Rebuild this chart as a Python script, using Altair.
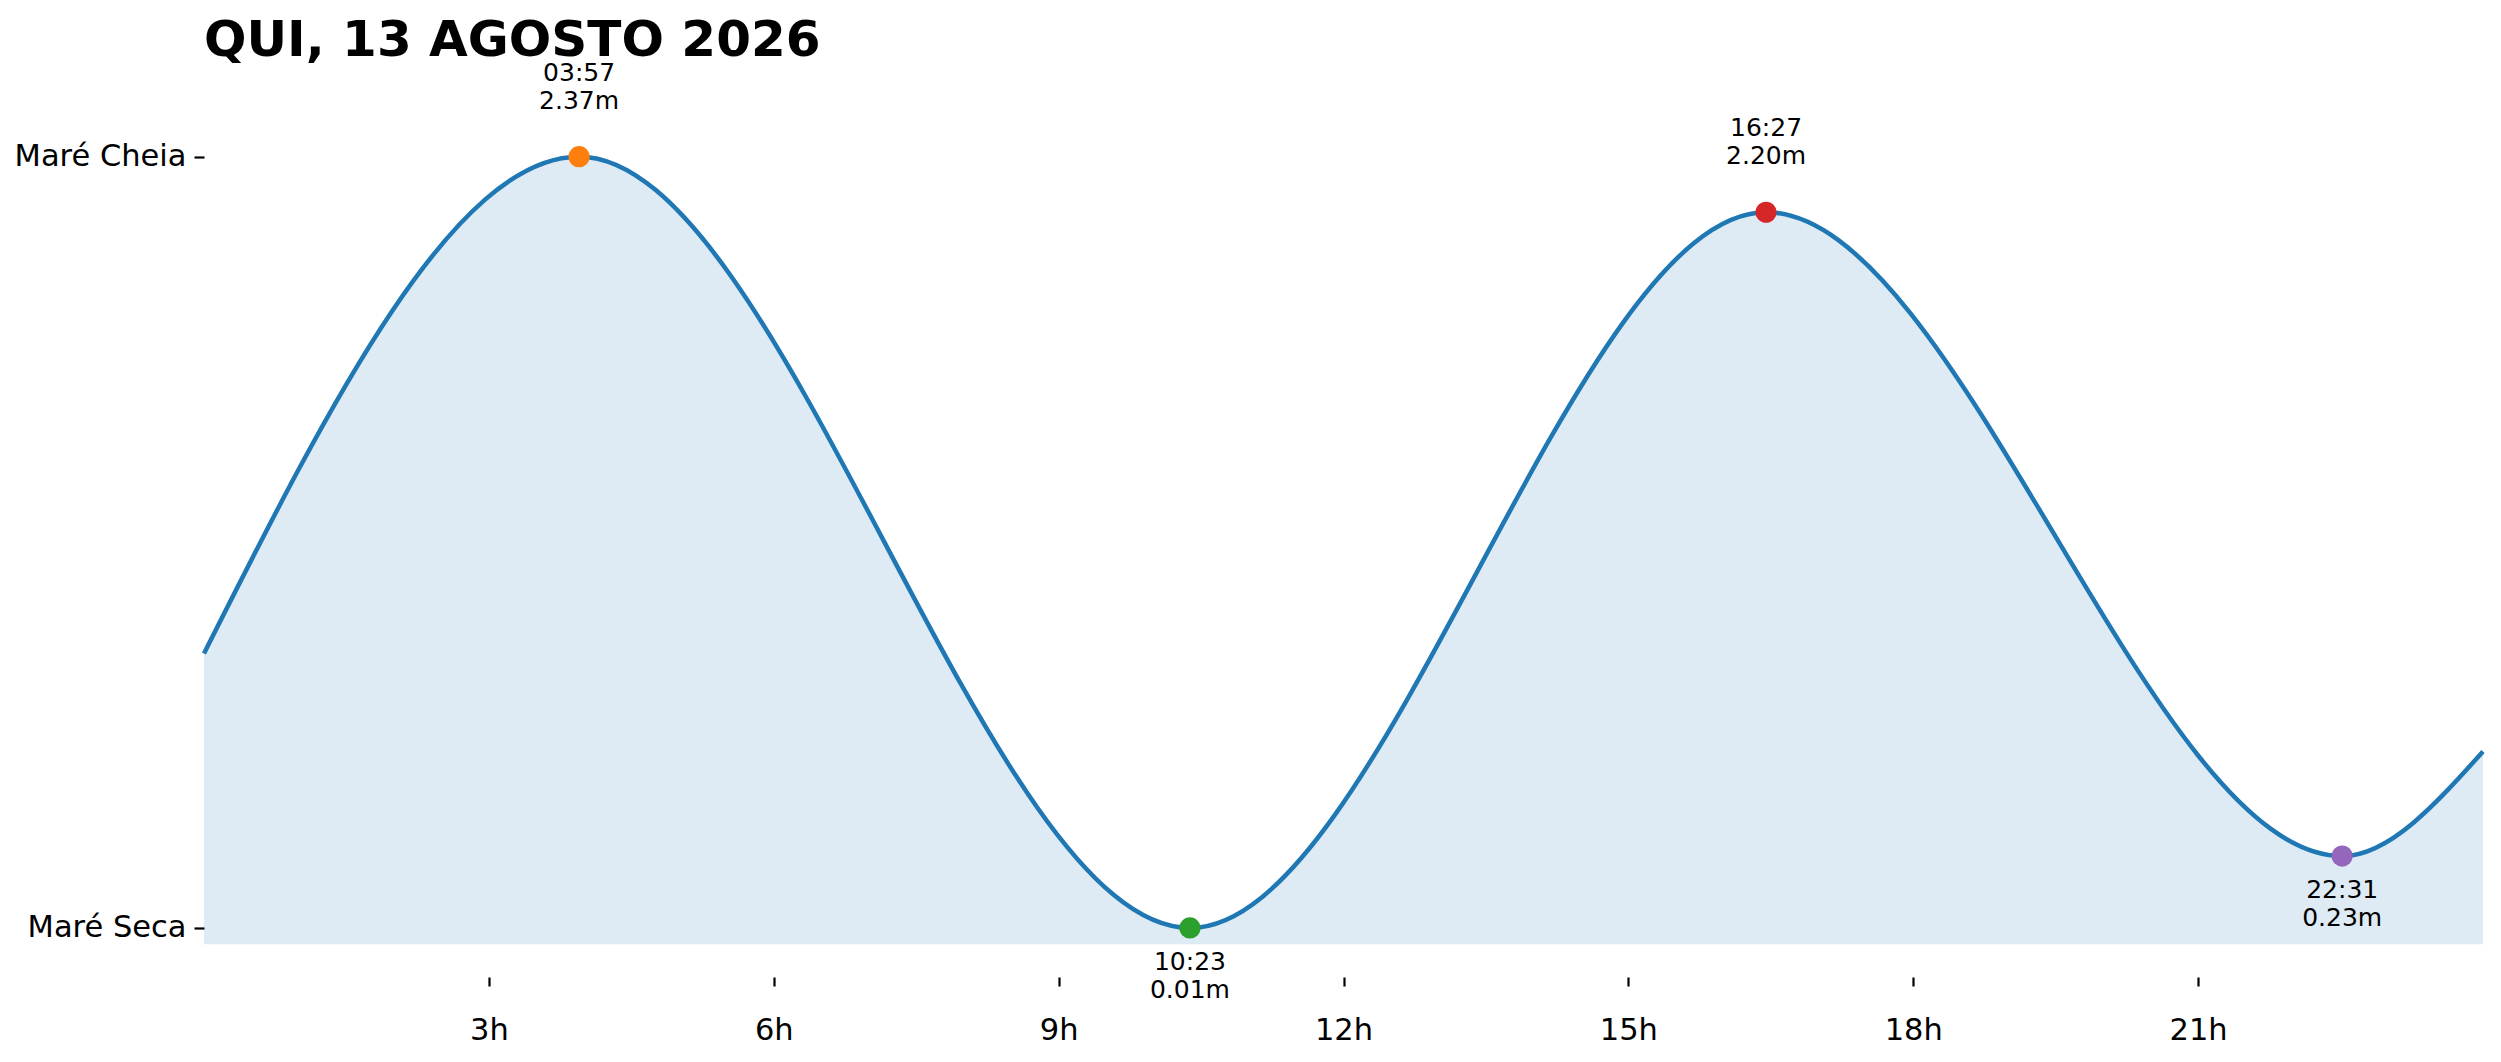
import altair as alt
import pandas as pd

# Tide curve (hours, metres)
curve_hours = [0, 3.95, 10.383, 16.45, 22.517, 24]
curve_heights = [0.85, 2.37, 0.01, 2.20, 0.23, 0.55]

# Extremes
ext_times = ["03:57", "10:23", "16:27", "22:31"]
ext_hours = [3.95, 10.383, 16.45, 22.517]
ext_heights = [2.37, 0.01, 2.20, 0.23]
ext_kind = ["high", "low", "high", "low"]
ext_colors = ["#ff7f0e", "#2ca02c", "#d62728", "#9467bd"]

x_ticks = [3, 6, 9, 12, 15, 18, 21]
y_ticks = [0.01, 2.37]
title_text = "QUI, 13 AGOSTO 2026"

curve = pd.DataFrame({"h": curve_hours, "v": curve_heights})
ext = pd.DataFrame({
    "h": ext_hours, "v": ext_heights, "kind": ext_kind, "color": ext_colors,
    "label": [f"{t}\n{v:.2f}m" for t, v in zip(ext_times, ext_heights)],
})

FONT = "DejaVu Sans"
x_enc = alt.X("h:Q", scale=alt.Scale(domain=[0, 24], nice=False, zero=False),
              axis=alt.Axis(values=x_ticks, labelExpr="datum.value + 'h'", title=None,
                            domain=False, grid=False, tickSize=9, tickWidth=2.2,
                            tickColor="black", labelFontSize=30.5, labelFont=FONT,
                            labelColor="black", labelPadding=29))
y_scale = alt.Scale(domain=[-0.14, 2.62], nice=False, zero=False)
y_enc = alt.Y("v:Q", scale=y_scale,
              axis=alt.Axis(values=y_ticks,
                            labelExpr="datum.value > 1 ? 'Maré Cheia' : 'Maré Seca'",
                            title=None, domain=False, grid=False, tickSize=10,
                            tickWidth=2.2, tickColor="black", labelFontSize=30.5,
                            labelFont=FONT, labelColor="black", labelPadding=8))

area = alt.Chart(curve).mark_area(color="#1f77b4", opacity=0.15, interpolate="monotone").encode(
    x=x_enc, y=y_enc, y2=alt.datum(-0.04))
line = alt.Chart(curve).mark_line(color="#1f77b4", strokeWidth=4.5, interpolate="monotone").encode(
    x="h:Q", y="v:Q")
pts = alt.Chart(ext).mark_circle(size=450, opacity=1).encode(
    x="h:Q", y="v:Q", color=alt.Color("color:N", scale=None))
hi_txt = alt.Chart(ext).transform_filter("datum.kind == 'high'").mark_text(
    baseline="bottom", align="center", dy=-71, fontSize=25, font=FONT, lineBreak="\n",
    lineHeight=28, color="black").encode(x="h:Q", y="v:Q", text="label:N")
lo_txt = alt.Chart(ext).transform_filter("datum.kind == 'low'").mark_text(
    baseline="top", align="center", dy=22, fontSize=25, font=FONT, lineBreak="\n",
    lineHeight=28, color="black").encode(x="h:Q", y="v:Q", text="label:N")

chart = alt.layer(area, line, pts, hi_txt, lo_txt).properties(
    width=2279, height=902,
    title=alt.TitleParams(title_text, anchor="start", frame="group", fontSize=50,
                          font=FONT, fontWeight="bold", color="black",
                          baseline="alphabetic", offset=18, dy=63),
    autosize=alt.AutoSizeParams(type="none"),
    padding={"left": 196, "top": 67, "right": 8, "bottom": 70},
).configure(background="white", view=alt.ViewConfig(strokeWidth=0, stroke="transparent"))

chart.save("out.html", embed_options={"renderer": "svg", "actions": False})
